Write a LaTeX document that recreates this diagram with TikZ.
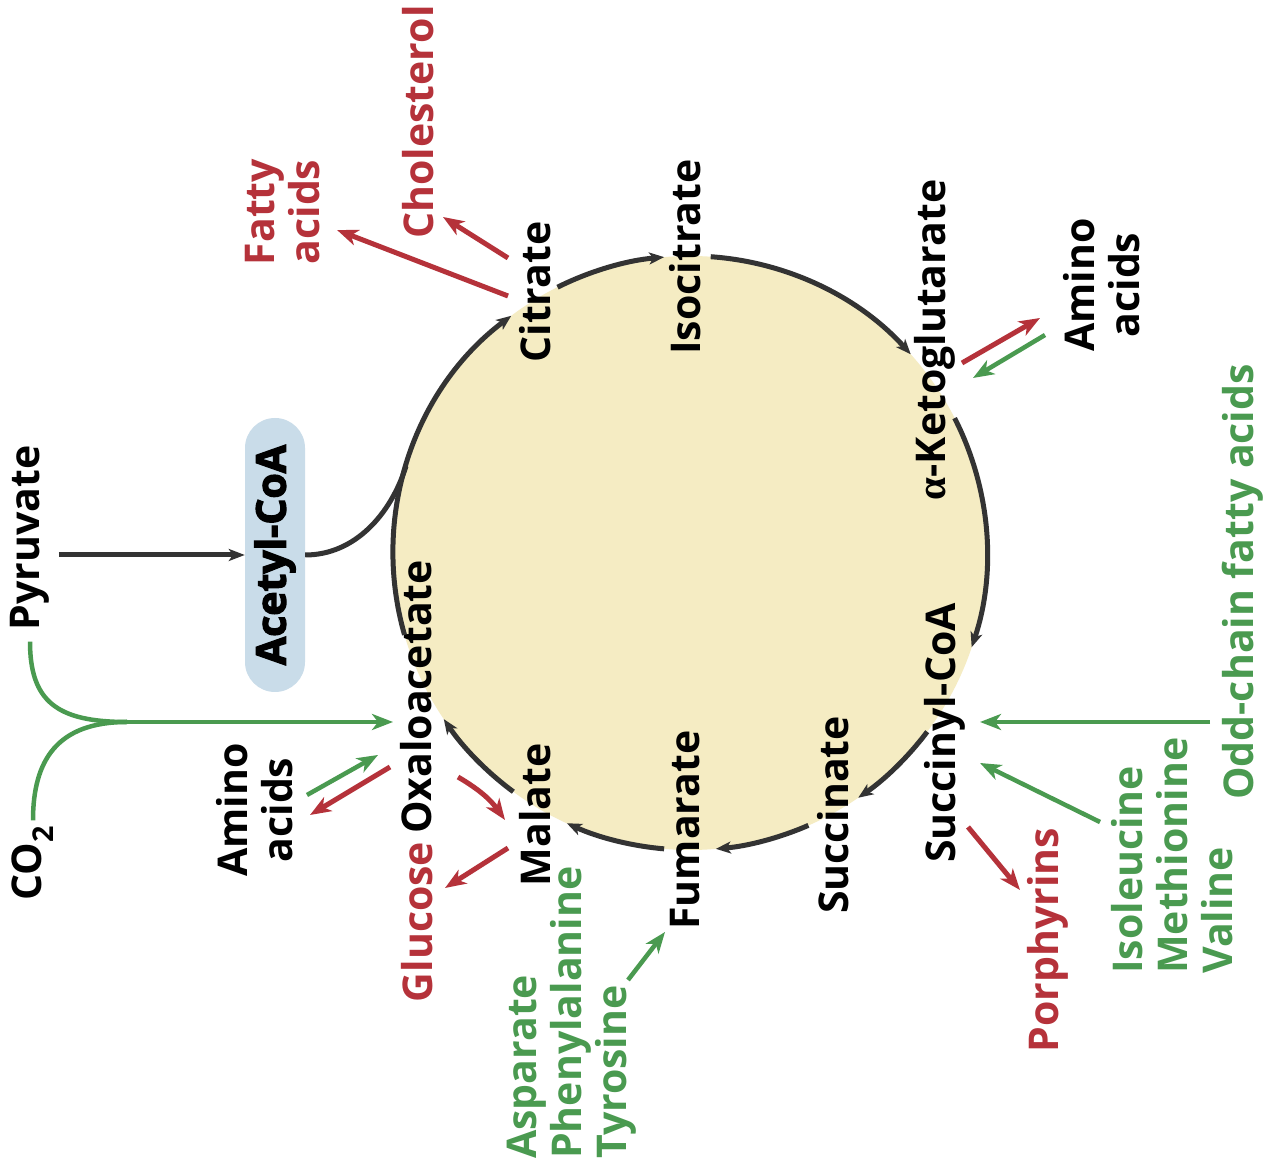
\documentclass[tikz,border=0pt]{standalone}
\usepackage{fontspec}
\setmainfont{Open Sans}
\newfontfamily\heavyfont[FakeBold=3]{Open Sans}
\newfontfamily\greekfont{Liberation Serif}
\usetikzlibrary{arrows.meta,calc}
\definecolor{cycdark}{HTML}{333333}
\definecolor{rxred}{HTML}{B5323A}
\definecolor{rxgreen}{HTML}{4A9A50}
\definecolor{cyfill}{HTML}{F5ECC3}
\definecolor{acbox}{HTML}{C9DCE9}
\begin{document}
\begin{tikzpicture}[x=1pt,y=1pt,
  lbl/.style={rotate=90, font=\fontsize{41}{45}\selectfont\bfseries, inner sep=1pt, align=center},
  redtxt/.style={lbl, text=rxred},
  grntxt/.style={lbl, text=rxgreen},
  cycarc/.style={draw=cycdark, line width=5pt, -{Stealth[length=15pt,width=12pt,inset=4pt]}},
  redarr/.style={draw=rxred, line width=5pt, -{Stealth[length=21pt,width=16pt,inset=6pt]}},
  grnline/.style={draw=rxgreen, line width=4.5pt},
  grnarr/.style={grnline, -{Stealth[length=21pt,width=16pt,inset=6pt]}},
]
\useasboundingbox (0,0) rectangle (1271,1175);
\fill[white] (0,0) rectangle (1271,1175);

% the cycle disc
\coordinate (C) at (690,622);
\fill[cyfill] (C) circle[radius=297];

% intermediates of the cycle
\node[lbl] (oxa) at (416,478) {Oxaloacetate};
\node[lbl] (cit) at (535,883) {Citrate};
\node[lbl] (iso) at (685,918) {Isocitrate};
\node[lbl] (akg) at (935,835) {{\greekfont α}-Ketoglutarate};
\node[lbl] (scoa) at (945,442) {Succinyl-CoA};
\node[lbl] (suc) at (833,360) {Succinate};
\node[lbl] (fum) at (685,345) {Fumarate};
\node[lbl] (mal) at (535,360) {Malate};

% cycle arcs
\draw[cycarc] ($(C)+(196:297)$) arc[start angle=196,end angle=127,radius=297];
\draw[cycarc] ($(C)+(116.5:297)$) arc[start angle=116.5,end angle=95,radius=297];
\draw[cycarc] ($(C)+(86:297)$) arc[start angle=86,end angle=42,radius=297];
\draw[cycarc] ($(C)+(27:297)$) arc[start angle=27,end angle=-18.5,radius=297];
\draw[cycarc] ($(C)+(-37:297)$) arc[start angle=-37,end angle=-55.5,radius=297];
\draw[cycarc] ($(C)+(-66.5:297)$) arc[start angle=-66.5,end angle=-85,radius=297];
\draw[cycarc] ($(C)+(-95:297)$) arc[start angle=-95,end angle=-114.5,radius=297];
\draw[cycarc] ($(C)+(-126.5:297)$) arc[start angle=-126.5,end angle=-146,radius=297];

% entry from pyruvate
\node[lbl] (pyr) at (30,637) {Pyruvate};
\node[lbl, fill=acbox, rounded corners=30pt, minimum width=274pt, minimum height=60pt,
      font=\fontsize{41}{45}\selectfont\heavyfont\bfseries] (acoa) at (275,620) {Acetyl-CoA};
\draw[draw=cycdark, line width=5pt, -{Stealth[length=16pt,width=12pt,inset=4pt]}] ([xshift=8pt]pyr.south |- acoa) -- (acoa.north);
\draw[draw=cycdark, line width=5pt] (acoa.south) .. controls (355,620) and (391,661) .. ($(C)+(163:297)$);

% anaplerotic carboxylation
\node[lbl] (co2) at (33,312) {CO\textsubscript{2}};
\coordinate (jn) at (127,453);
\draw[grnline] ([yshift=-10pt]pyr.west) .. controls +(0,-60) and +(-70,0) .. (jn);
\draw[grnline] ([yshift=4pt]co2.east) .. controls +(0,60) and +(-70,0) .. (jn);
\draw[grnarr] (jn) -- ([xshift=-6pt]jn -| oxa.north);

% amino acids at oxaloacetate
\node[lbl] (aal) at (255,365) {Amino\\acids};
\coordinate (aal-in) at (307,380);
\coordinate (aal-out) at (310,360);
\coordinate (oxa-in) at (378,420);
\coordinate (oxa-out) at (390,408);
\draw[grnarr] (aal-in) -- (oxa-in);
\draw[redarr] (oxa-out) -- (aal-out);

% gluconeogenesis
\node[redtxt] (glc) at (417,253) {Glucose};
\coordinate (oxa-m) at (458,398);
\coordinate (mal-in) at (505,355);
\draw[redarr] (oxa-m) to[bend left=12] (mal-in);
\coordinate (mal-out) at (508,327);
\coordinate (glc-in) at (445,287);
\draw[redarr] (mal-out) -- (glc-in);

% aromatic amino acids to fumarate
\node[grntxt, anchor=west, align=left] (arom) at (572,15) {Asparate\\Phenylalanine\\Tyrosine};
\coordinate (arom-out) at (628,195);
\coordinate (fum-in) at (665,243);
\draw[grnarr] (arom-out) -- (fum-in);

% citrate to lipids
\node[redtxt] (fa) at (283,963) {Fatty\\acids};
\node[redtxt] (chol) at (418,1053) {Cholesterol};
\coordinate (cit-fa) at (508,879);
\coordinate (fa-in) at (337,945);
\coordinate (cit-ch) at (508,917);
\coordinate (chol-in) at (443,958);
\draw[redarr] (cit-fa) -- (fa-in);
\draw[redarr] (cit-ch) -- (chol-in);

% amino acids at alpha-ketoglutarate
\node[lbl] (aar) at (1102,890) {Amino\\acids};
\coordinate (akg-out) at (962,812);
\coordinate (aar-in) at (1040,857);
\coordinate (aar-out) at (1045,840);
\coordinate (akg-in) at (973,797);
\draw[redarr] (akg-out) -- (aar-in);
\draw[grnarr] (aar-out) -- (akg-in);

% succinyl-CoA branch points
\node[redtxt] (por) at (1048,235) {Porphyrins};
\node[grntxt, anchor=west, align=left] (ilv) at (1172,200) {Isoleucine\\Methionine\\Valine};
\node[grntxt] (odd) at (1243,593) {Odd-chain fatty acids};
\coordinate (scoa-out) at (968,348);
\coordinate (por-in) at (1020,285);
\coordinate (ilv-out) at (1100,353);
\coordinate (scoa-in1) at (980,412);
\coordinate (odd-out) at (1210,453);
\coordinate (scoa-in2) at (980,453);
\draw[redarr] (scoa-out) -- (por-in);
\draw[grnarr] (ilv-out) -- (scoa-in1);
\draw[grnarr] (odd-out) -- (scoa-in2);
\end{tikzpicture}
\end{document}
